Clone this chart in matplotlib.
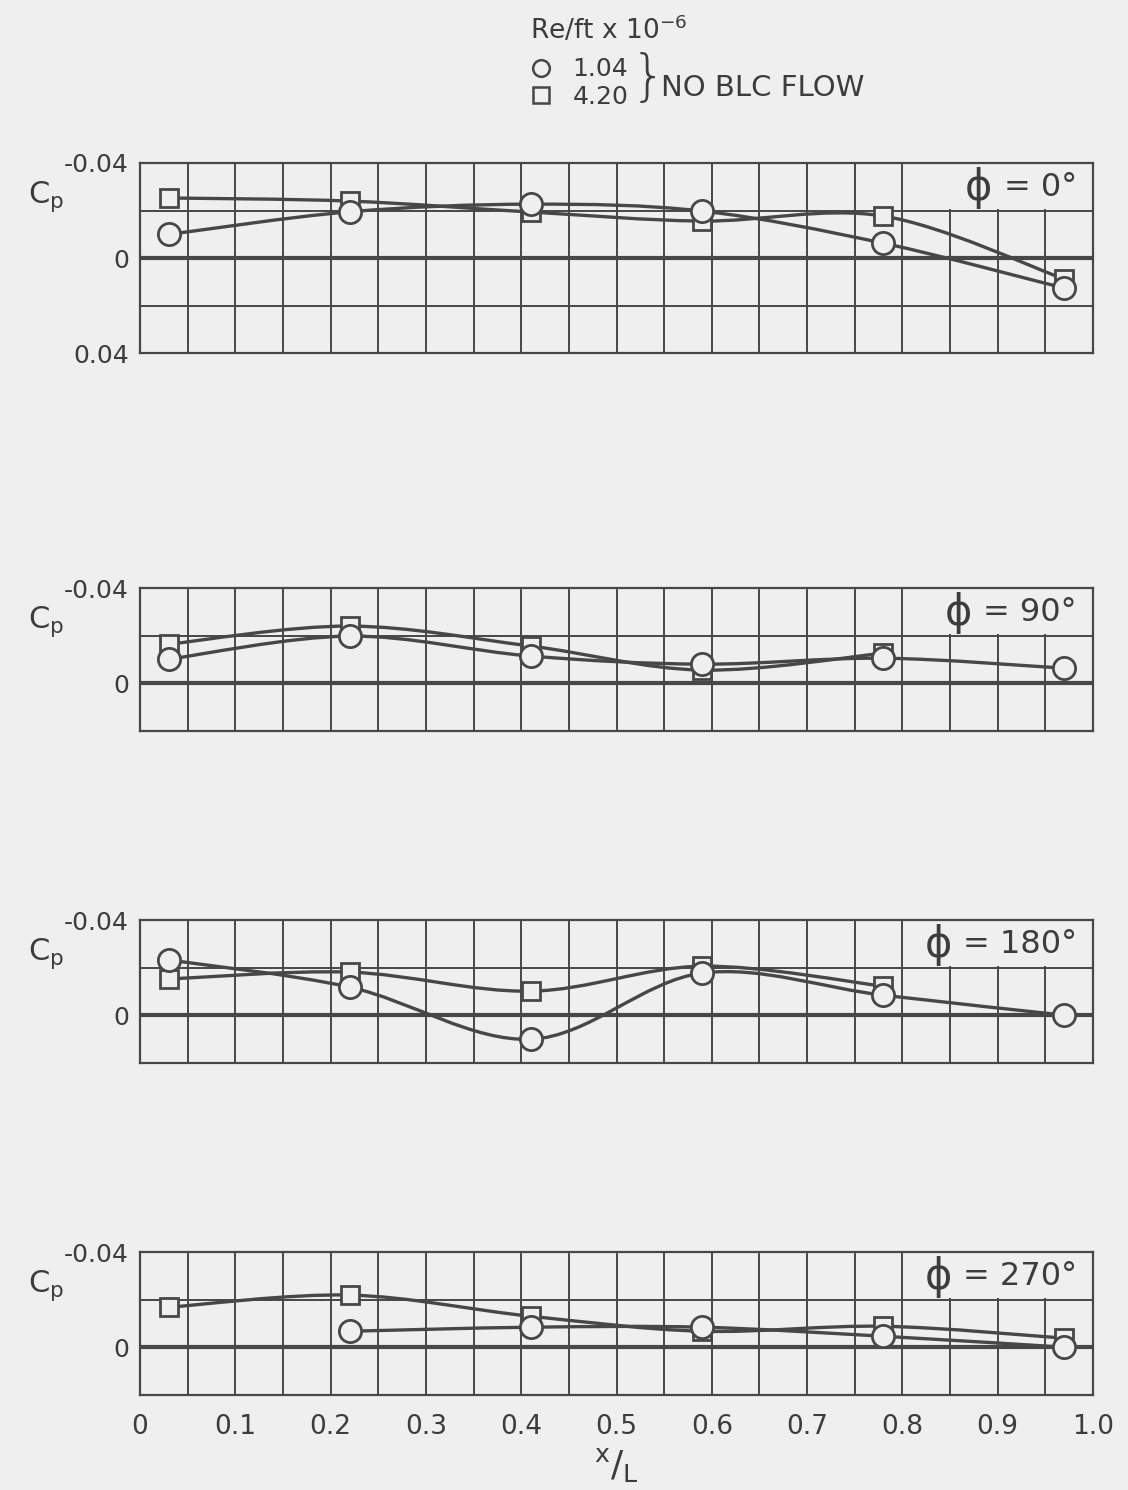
import numpy as np
import matplotlib
matplotlib.use('Agg')
import matplotlib.pyplot as plt
from matplotlib.path import Path
from matplotlib.patches import PathPatch, Rectangle
from matplotlib.lines import Line2D

# x/L stations (shared by all panels)
x_pos = [0.03, 0.22, 0.41, 0.59, 0.78, 0.97]

# Cp, nan = no point
cp_0_c = [-0.010, -0.0195, -0.0227, -0.0198, -0.0063, 0.0126]
cp_0_s = [-0.0253, -0.024, -0.0194, -0.0156, -0.0177, 0.0088]
cp_90_c = [-0.0101, -0.0198, -0.0114, -0.008, -0.0105, -0.0063]
cp_90_s = [-0.0164, -0.024, -0.0156, -0.0055, -0.0126, np.nan]
cp_180_c = [-0.0232, -0.0118, 0.0101, -0.0177, -0.0084, 0.0]
cp_180_s = [-0.0152, -0.0181, -0.0101, -0.0206, -0.0122, np.nan]
cp_270_c = [np.nan, -0.0067, -0.0084, -0.0084, -0.0046, 0.0]
cp_270_s = [-0.0168, -0.0219, -0.013, -0.0067, -0.0088, -0.0038]

panels = [
    ('= 0°', cp_0_c, cp_0_s, 0.04),
    ('= 90°', cp_90_c, cp_90_s, 0.02),
    ('= 180°', cp_180_c, cp_180_s, 0.02),
    ('= 270°', cp_270_c, cp_270_s, 0.02),
]
re_labels = ['1.04', '4.20']

BG = '#efefef'
INK = '#474747'
TXT = '#3c3c3c'

plt.rcParams['font.family'] = ['DejaVu Sans']


def faired(xs, ys):
    # catmull-rom through the points, as cubic bezier path (data coords)
    xs = np.asarray(xs, float)
    ys = np.asarray(ys, float)
    ok = ~np.isnan(ys)
    p = np.column_stack([xs[ok], ys[ok]])
    verts = [p[0]]
    codes = [Path.MOVETO]
    n = len(p)
    for i in range(n - 1):
        p0 = p[i - 1] if i > 0 else p[i]
        p3 = p[i + 2] if i + 2 < n else p[i + 1]
        c1 = p[i] + (p[i + 1] - p0) / 6.0
        c2 = p[i + 1] - (p3 - p[i]) / 6.0
        verts += [c1, c2, p[i + 1]]
        codes += [Path.CURVE4] * 3
    return Path(verts, codes)


fig = plt.figure(figsize=(11.28, 14.90), dpi=100, facecolor=BG)

left = 140 / 1128
width = 953 / 1128
tops = [163, 588, 920, 1252]
H = 1490

axes = []
for k, (lab, cc, cs, ybot) in enumerate(panels):
    top = tops[k]
    hpx = (ybot + 0.04) / 0.02 * 47.6
    ax = fig.add_axes([left, 1 - (top + hpx) / H, width, hpx / H])
    ax.set_facecolor(BG)
    ax.set_xlim(0, 1.0)
    ax.set_ylim(ybot, -0.04)
    xt = np.round(np.arange(0, 1.0001, 0.05), 2)
    yt = np.round(np.arange(-0.04, ybot + 0.0001, 0.02), 2)
    ax.set_xticks(xt)
    ax.set_yticks(yt)
    ylabs = []
    for v in yt:
        if abs(v) < 1e-9:
            ylabs.append('0')
        elif abs(abs(v) - 0.04) < 1e-9:
            ylabs.append('%.2f' % v)
        else:
            ylabs.append('')
    ax.set_yticklabels(ylabs)
    ax.tick_params(axis='y', length=0, labelsize=18, colors=TXT, pad=8)
    if k == 3:
        ax.set_xticklabels(['0' if v == 0 else ('%.1f' % v if round(v * 100) % 10 == 0 else '') for v in xt])
        ax.set_xlabel(r'$^{\mathregular{x}}/_{\mathregular{L}}$', fontsize=26, color=TXT, labelpad=4)
    else:
        ax.set_xticklabels([])
    ax.tick_params(axis='x', length=0, labelsize=19, colors=TXT, pad=14)
    ax.grid(True, color=INK, lw=1.4)
    ax.set_axisbelow(True)
    for s in ax.spines.values():
        s.set_color(INK)
        s.set_linewidth(1.6)
    ax.axhline(0, color=INK, lw=3, zorder=1)

    # label box over the top right cells
    ax.add_patch(Rectangle((0.803, -0.04), 0.197, 0.0193, fc=BG, ec='none', zorder=1.5))
    t = ax.text(0.983, -0.0295, lab, ha='right', va='center', fontsize=23, color=TXT, zorder=3)
    ax.annotate('ϕ', xy=(0, 0.5), xycoords=t, xytext=(-8, 0), textcoords='offset points',
                ha='right', va='center', fontsize=30, color=TXT, zorder=3)

    ax.text(-0.118, -0.026, r'$\mathregular{C_p}$', transform=ax.transData,
            fontsize=22, color=TXT, ha='left', va='center')

    ax.add_patch(PathPatch(faired(x_pos, cc), fc='none', ec=INK, lw=2.4, zorder=2))
    ax.add_patch(PathPatch(faired(x_pos, cs), fc='none', ec=INK, lw=2.4, zorder=2))
    ax.plot(x_pos, cs, ls='none', marker='s', ms=13, mfc=BG, mec=INK, mew=2, zorder=4)
    ax.plot(x_pos, cc, ls='none', marker='o', ms=16, mfc=BG, mec=INK, mew=2, zorder=5)
    axes.append(ax)

# legend at the top
fig.text(530 / 1128, 1 - 30 / H, r'Re/ft x 10$^{\mathregular{-6}}$', fontsize=19,
         color=TXT, ha='left', va='center')
h_c = Line2D([], [], ls='none', marker='o', ms=12, mfc=BG, mec=INK, mew=1.8)
h_s = Line2D([], [], ls='none', marker='s', ms=11, mfc=BG, mec=INK, mew=1.8)
leg = fig.legend([h_c, h_s], re_labels,
                 loc='upper left', bbox_to_anchor=(516 / 1128, 1 - 45 / H),
                 frameon=False, fontsize=18,
                 borderpad=0, handlelength=1.0, handletextpad=0.75, labelspacing=0.12)
for t in leg.get_texts():
    t.set_color(TXT)
fig.text(631 / 1128, 1 - 79 / H, '}', fontsize=40, color=TXT, ha='left', va='center',
         fontweight='light')
fig.text(661 / 1128, 1 - 88 / H, 'NO BLC FLOW', fontsize=21, color=TXT, ha='left', va='center')

fig.savefig('out.png', dpi=100, facecolor=BG)
